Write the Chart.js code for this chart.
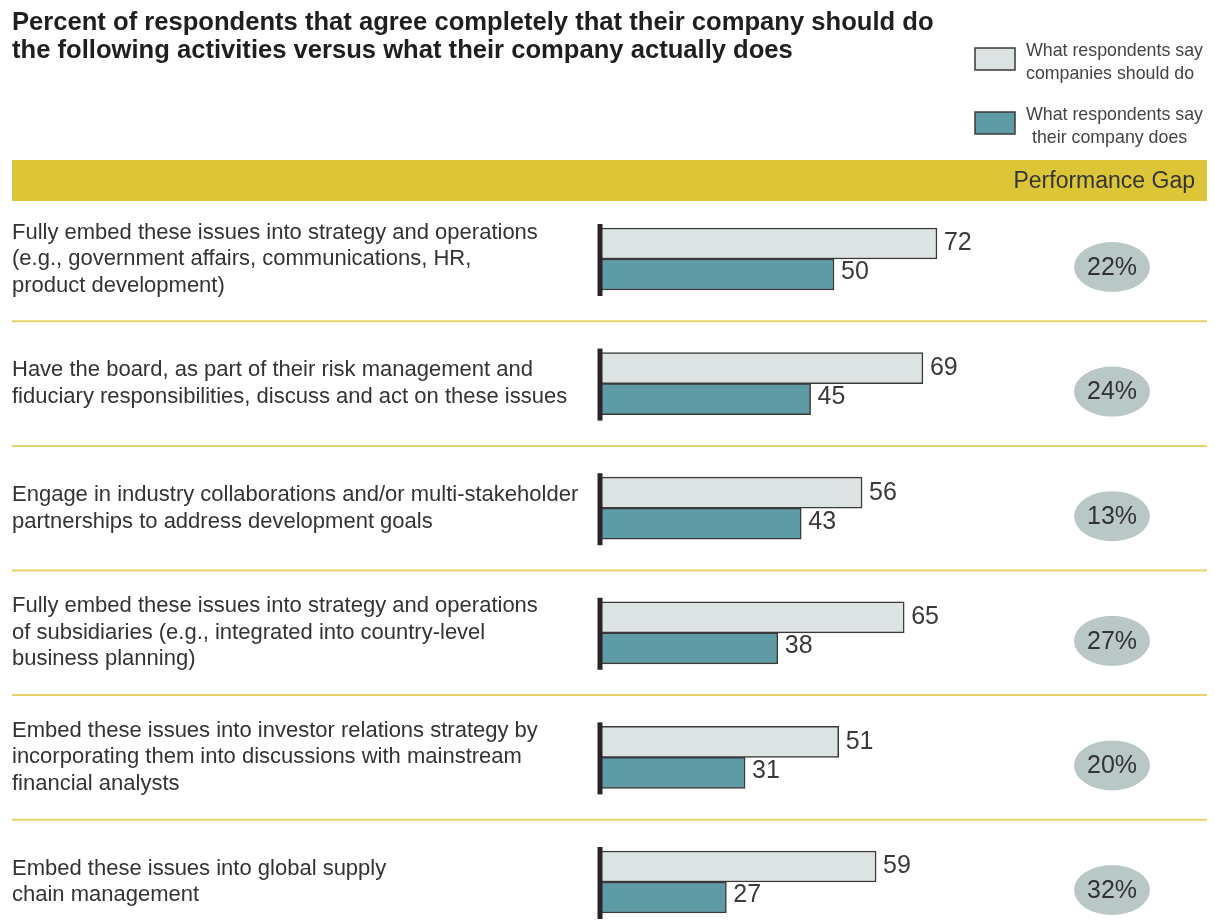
<!DOCTYPE html>
<html>
<head>
<meta charset="utf-8">
<script src="https://cdn.jsdelivr.net/npm/chart.js@4.4.1/dist/chart.umd.min.js"></script>
<style>
  html, body { margin: 0; padding: 0; background: #fff; overflow: hidden; }
  #wrap { position: relative; width: 1215px; height: 920px; }
</style>
</head>
<body>
<div id="wrap"><canvas id="gapChart"></canvas></div>
<script>
'use strict';

// ---- Data ----
const categories = [
  ['Fully embed these issues into strategy and operations', '(e.g., government affairs, communications, HR,', 'product development)'],
  ['Have the board, as part of their risk management and', 'fiduciary responsibilities, discuss and act on these issues'],
  ['Engage in industry collaborations and/or multi-stakeholder', 'partnerships to address development goals'],
  ['Fully embed these issues into strategy and operations', 'of subsidiaries (e.g., integrated into country-level', 'business planning)'],
  ['Embed these issues into investor relations strategy by', 'incorporating them into discussions with mainstream', 'financial analysts'],
  ['Embed these issues into global supply', 'chain management'],
];
const shouldDo     = [72, 69, 56, 65, 51, 59];
const actuallyDoes = [50, 45, 43, 38, 31, 27];
const gapLabels    = ['22%', '24%', '13%', '27%', '20%', '32%'];
const seriesNames  = [
  ['What respondents say', 'companies should do'],
  ['What respondents say', 'their company does'],
];
const titleLines = [
  'Percent of respondents that agree completely that their company should do',
  'the following activities versus what their company actually does',
];
const gapHeader = 'Performance Gap';

// ---- Styling ----
const COLORS = {
  should:  '#dde2e2',
  does:    '#5f9ba5',
  border:  '#3a3a3a',
  axis:    '#2b2329',
  band:    '#dcc638',
  rule:    '#e6d36a',
  ellipse: '#b9c7c7',
  text:    '#333333',
  title:   '#1f1f1f',
};
const FONT = "'Liberation Sans', Arial, sans-serif";

const decor = {
  id: 'decor',
  beforeDraw(chart) {
    const { ctx, width, height } = chart;
    ctx.save();
    ctx.fillStyle = '#fff';
    ctx.fillRect(0, 0, width, height);
    ctx.restore();
  },
  beforeDatasetsDraw(chart) {
    const { ctx } = chart;
    const yS = chart.scales.y;
    ctx.save();

    // title
    ctx.fillStyle = COLORS.title;
    ctx.font = 'bold 25.6px ' + FONT;
    ctx.textBaseline = 'middle';
    ctx.textAlign = 'left';
    titleLines.forEach((t, i) => ctx.fillText(t, 12, 23 + i * 28));

    // legend
    const legendY = [59, 123];
    [COLORS.should, COLORS.does].forEach((c, i) => {
      ctx.fillStyle = c;
      ctx.fillRect(975, legendY[i] - 11, 40, 22);
      ctx.strokeStyle = COLORS.border;
      ctx.lineWidth = 1.5;
      ctx.strokeRect(975, legendY[i] - 11, 40, 22);
      ctx.fillStyle = '#444';
      ctx.font = '17.8px ' + FONT;
      ctx.fillText(seriesNames[i][0], 1026, legendY[i] - 8);
      ctx.fillText(seriesNames[i][1], i === 0 ? 1026 : 1032, legendY[i] + 15);
    });

    // header band
    ctx.fillStyle = COLORS.band;
    ctx.fillRect(12, 160, 1195, 41);
    ctx.fillStyle = COLORS.text;
    ctx.font = '23px ' + FONT;
    ctx.textAlign = 'right';
    ctx.fillText(gapHeader, 1195, 182);

    // rows
    const n = categories.length;
    for (let i = 0; i < n; i++) {
      const cy = yS.getPixelForValue(i);
      const lines = categories[i];
      ctx.fillStyle = COLORS.text;
      ctx.font = '22px ' + FONT;
      ctx.textAlign = 'left';
      lines.forEach((l, k) => ctx.fillText(l, 12, cy + (k - (lines.length - 1) / 2) * 26.5));

      if (i < n - 1) {
        const sy = (cy + yS.getPixelForValue(i + 1)) / 2;
        ctx.strokeStyle = COLORS.rule;
        ctx.lineWidth = 2;
        ctx.beginPath();
        ctx.moveTo(12, sy);
        ctx.lineTo(1207, sy);
        ctx.stroke();
      }

      // performance gap ellipse
      ctx.fillStyle = COLORS.ellipse;
      ctx.beginPath();
      ctx.ellipse(1112, cy + 8, 38, 25, 0, 0, Math.PI * 2);
      ctx.fill();
      ctx.fillStyle = COLORS.text;
      ctx.font = '25px ' + FONT;
      ctx.textAlign = 'center';
      ctx.fillText(gapLabels[i], 1112, cy + 9);
    }
    ctx.restore();
  },
  afterDatasetsDraw(chart) {
    const { ctx } = chart;
    const x0 = chart.scales.x.getPixelForValue(0);
    const yS = chart.scales.y;
    ctx.save();
    // short axis stub per row
    ctx.strokeStyle = COLORS.axis;
    ctx.lineWidth = 5;
    for (let i = 0; i < categories.length; i++) {
      const cy = yS.getPixelForValue(i);
      ctx.beginPath();
      ctx.moveTo(x0, cy - 35);
      ctx.lineTo(x0, cy + 37);
      ctx.stroke();
    }
    // value labels
    ctx.fillStyle = '#3a3a3a';
    ctx.font = '25px ' + FONT;
    ctx.textAlign = 'left';
    ctx.textBaseline = 'middle';
    chart.data.datasets.forEach((ds, d) => {
      chart.getDatasetMeta(d).data.forEach((bar, j) => {
        ctx.fillText(String(ds.data[j]), bar.x + 7, bar.y + (d === 0 ? 0 : -2));
      });
    });
    ctx.restore();
  },
};

new Chart(document.getElementById('gapChart'), {
  type: 'bar',
  data: {
    labels: categories.map(c => c.join(' ')),
    datasets: [
      {
        label: seriesNames[0].join(' '),
        data: shouldDo,
        backgroundColor: COLORS.should,
        borderColor: COLORS.border,
        borderWidth: 1.5,
        borderSkipped: false,
        barThickness: 31,
        clip: false,
      },
      {
        label: seriesNames[1].join(' '),
        data: actuallyDoes,
        backgroundColor: COLORS.does,
        borderColor: COLORS.border,
        borderWidth: 1.5,
        borderSkipped: false,
        barThickness: 31,
        clip: false,
      },
    ],
  },
  options: {
    indexAxis: 'y',
    responsive: true,
    maintainAspectRatio: false,
    animation: false,
    layout: { padding: { left: 600, right: 147, top: 259, bottom: 38 } },
    plugins: { legend: { display: false }, tooltip: { enabled: false } },
    scales: {
      x: { display: false, min: 0, max: 100 },
      y: { display: false, offset: false, grid: { display: false } },
    },
  },
  plugins: [decor],
});
</script>
</body>
</html>
